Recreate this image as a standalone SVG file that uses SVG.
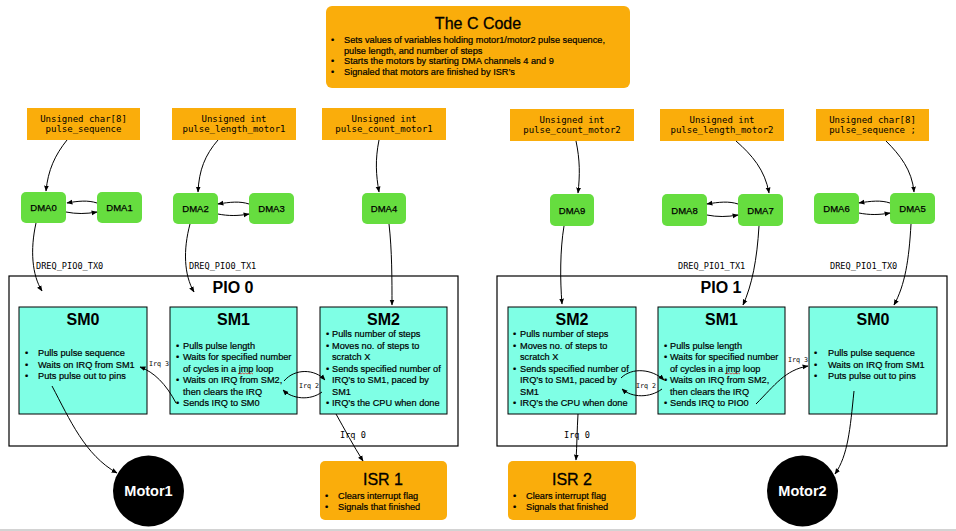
<svg xmlns="http://www.w3.org/2000/svg" width="956" height="531" viewBox="0 0 956 531">
<defs>
<marker id="ah" viewBox="0 0 10 10" refX="9" refY="5" markerWidth="6" markerHeight="6" orient="auto-start-reverse" markerUnits="userSpaceOnUse">
<path d="M0,1 L10,5 L0,9 z" fill="#000"/>
</marker>
<style>
.org{fill:#FAAD0B}
.grn{fill:#66DD3F}
.sm{fill:#7FFFE5;stroke:#000;stroke-width:1}
.pio{fill:none;stroke:#000;stroke-width:1.2}
.ttl{font-family:"Liberation Sans",Arial,sans-serif;font-size:16px;font-weight:bold;fill:#000;text-anchor:middle}
.ttl2{font-family:"Liberation Sans",Arial,sans-serif;font-size:16px;fill:#000;stroke:#000;stroke-width:0.3;text-anchor:middle}
.txt{font-family:"Liberation Sans",Arial,sans-serif;font-size:9.2px;fill:#000;stroke:#000;stroke-width:0.2}
.dma{font-family:"Liberation Sans",Arial,sans-serif;font-size:9.5px;fill:#000;stroke:#000;stroke-width:0.25;text-anchor:middle}
.mono{font-family:"DejaVu Sans Mono","Liberation Mono",monospace;font-size:9px;fill:#000;text-anchor:middle}
.lbl{font-family:"DejaVu Sans Mono","Liberation Mono",monospace;font-size:8.6px;fill:#000}
.lbls{font-family:"DejaVu Sans Mono","Liberation Mono",monospace;font-size:6.7px;fill:#000}
.mot{font-family:"Liberation Sans",Arial,sans-serif;font-size:14.5px;font-weight:bold;fill:#fff;text-anchor:middle}
.c{fill:none;stroke:#000;stroke-width:1;marker-end:url(#ah)}
.sq{fill:none;stroke:#E03030;stroke-width:0.8}
</style>
</defs>
<rect width="956" height="531" fill="#fff"/>
<line x1="0" y1="530" x2="956" y2="530" stroke="#c4c4c4" stroke-width="1.5"/>

<g id="ccode">
<rect x="326" y="6" width="304" height="82" rx="6" class="org"/>
<text x="478" y="29" class="ttl2">The C Code</text>
<text x="331" y="43" class="txt">•</text><text x="344" y="43" class="txt">Sets values of variables holding motor1/motor2 pulse sequence,</text>
<text x="344" y="53.5" class="txt">pulse length, and number of steps</text>
<text x="331" y="64" class="txt">•</text><text x="344" y="64" class="txt">Starts the motors by starting DMA channels 4 and 9</text>
<text x="331" y="74.5" class="txt">•</text><text x="344" y="74.5" class="txt">Signaled that motors are finished by ISR’s</text>
</g>

<g id="var1"><rect x="27" y="108" width="113" height="32" class="org"/><text x="83.5" y="122" class="mono">Unsigned char[8]</text><text x="83.5" y="132" class="mono">pulse_sequence</text></g>
<g id="var2"><rect x="172" y="108" width="124" height="32" class="org"/><text x="234" y="122" class="mono">Unsigned int</text><text x="234" y="132" class="mono">pulse_length_motor1</text></g>
<g id="var3"><rect x="322" y="108" width="124" height="32" class="org"/><text x="384" y="122" class="mono">Unsigned int</text><text x="384" y="132" class="mono">pulse_count_motor1</text></g>
<g id="var4"><rect x="510" y="109" width="124" height="32" class="org"/><text x="572" y="123" class="mono">Unsigned int</text><text x="572" y="133" class="mono">pulse_count_motor2</text></g>
<g id="var5"><rect x="660" y="109" width="124" height="32" class="org"/><text x="722" y="123" class="mono">Unsigned int</text><text x="722" y="133" class="mono">pulse_length_motor2</text></g>
<g id="var6"><rect x="816" y="109" width="113" height="32" class="org"/><text x="872.5" y="123" class="mono">Unsigned char[8]</text><text x="872.5" y="133" class="mono">pulse_sequence ;</text></g>

<g id="dma0"><rect x="21" y="192" width="45" height="31" rx="5" class="grn"/><text x="43.5" y="211" class="dma">DMA0</text></g>
<g id="dma1"><rect x="97" y="192" width="45" height="31" rx="5" class="grn"/><text x="119.5" y="211" class="dma">DMA1</text></g>
<g id="dma2"><rect x="173" y="193" width="45" height="31" rx="5" class="grn"/><text x="195.5" y="212" class="dma">DMA2</text></g>
<g id="dma3"><rect x="249" y="193" width="45" height="31" rx="5" class="grn"/><text x="271.5" y="212" class="dma">DMA3</text></g>
<g id="dma4"><rect x="362" y="193" width="44" height="31" rx="5" class="grn"/><text x="384" y="212" class="dma">DMA4</text></g>
<g id="dma9"><rect x="550" y="194" width="44" height="32" rx="5" class="grn"/><text x="572" y="213.5" class="dma">DMA9</text></g>
<g id="dma8"><rect x="662" y="194" width="45" height="32" rx="5" class="grn"/><text x="684.5" y="213.5" class="dma">DMA8</text></g>
<g id="dma7"><rect x="738" y="194" width="45" height="32" rx="5" class="grn"/><text x="760.5" y="213.5" class="dma">DMA7</text></g>
<g id="dma6"><rect x="814" y="193" width="45" height="31" rx="5" class="grn"/><text x="836.5" y="212" class="dma">DMA6</text></g>
<g id="dma5"><rect x="890" y="193" width="45" height="31" rx="5" class="grn"/><text x="912.5" y="212" class="dma">DMA5</text></g>

<g id="pio0"><rect x="9" y="276" width="449" height="170" class="pio"/><text x="233" y="293" class="ttl">PIO 0</text></g>
<g id="pio1"><rect x="497" y="276" width="450" height="170" class="pio"/><text x="721" y="293" class="ttl">PIO 1</text></g>

<g id="pio0_sm0">
<rect x="19" y="307" width="128" height="107" class="sm"/>
<text x="83" y="325" class="ttl">SM0</text>
<text x="25" y="356" class="txt">•</text><text x="38" y="356" class="txt">Pulls pulse sequence</text>
<text x="25" y="367.5" class="txt">•</text><text x="38" y="367.5" class="txt">Waits on IRQ from SM1</text>
<text x="25" y="379" class="txt">•</text><text x="38" y="379" class="txt">Puts pulse out to pins</text>
</g>
<g id="pio0_sm1">
<rect x="170" y="307" width="127" height="107" class="sm"/>
<text x="233.5" y="325" class="ttl">SM1</text>
<text x="176" y="348.5" class="txt">•</text><text x="183" y="348.5" class="txt">Pulls pulse length</text>
<text x="176" y="360" class="txt">•</text><text x="183" y="360" class="txt">Waits for specified number</text>
<text x="183" y="371.5" class="txt">of cycles in a jmp loop</text>
<text x="176" y="383" class="txt">•</text><text x="183" y="383" class="txt">Waits on IRQ from SM2,</text>
<text x="183" y="394.5" class="txt">then clears the IRQ</text>
<text x="176" y="406" class="txt">•</text><text x="183" y="406" class="txt">Sends IRQ to SM0</text>
<path class="sq" d="M238,374 l1.5,-1 l1.5,1 l1.5,-1 l1.5,1 l1.5,-1 l1.5,1 l1.5,-1 l1.5,1 l1.5,-1 l1.5,1"/>
</g>
<g id="pio0_sm2">
<rect x="320" y="307" width="127" height="107" class="sm"/>
<text x="383.5" y="325" class="ttl">SM2</text>
<text x="326" y="337" class="txt">•</text><text x="332" y="337" class="txt">Pulls number of steps</text>
<text x="326" y="348.5" class="txt">•</text><text x="332" y="348.5" class="txt">Moves no. of steps to</text>
<text x="332" y="360" class="txt">scratch X</text>
<text x="326" y="371.5" class="txt">•</text><text x="332" y="371.5" class="txt">Sends specified number of</text>
<text x="332" y="383" class="txt">IRQ’s to SM1, paced by</text>
<text x="332" y="394.5" class="txt">SM1</text>
<text x="326" y="406" class="txt">•</text><text x="332" y="406" class="txt">IRQ’s the CPU when done</text>
</g>

<g id="pio1_sm2">
<rect x="508" y="307" width="128" height="107" class="sm"/>
<text x="572" y="325" class="ttl">SM2</text>
<text x="513" y="337" class="txt">•</text><text x="520" y="337" class="txt">Pulls number of steps</text>
<text x="513" y="348.5" class="txt">•</text><text x="520" y="348.5" class="txt">Moves no. of steps to</text>
<text x="520" y="360" class="txt">scratch X</text>
<text x="513" y="371.5" class="txt">•</text><text x="520" y="371.5" class="txt">Sends specified number of</text>
<text x="520" y="383" class="txt">IRQ’s to SM1, paced by</text>
<text x="520" y="394.5" class="txt">SM1</text>
<text x="513" y="406" class="txt">•</text><text x="520" y="406" class="txt">IRQ’s the CPU when done</text>
</g>
<g id="pio1_sm1">
<rect x="658" y="307" width="127" height="107" class="sm"/>
<text x="721.5" y="325" class="ttl">SM1</text>
<text x="664" y="348.5" class="txt">•</text><text x="670" y="348.5" class="txt">Pulls pulse length</text>
<text x="664" y="360" class="txt">•</text><text x="670" y="360" class="txt">Waits for specified number</text>
<text x="670" y="371.5" class="txt">of cycles in a jmp loop</text>
<text x="664" y="383" class="txt">•</text><text x="670" y="383" class="txt">Waits on IRQ from SM2,</text>
<text x="670" y="394.5" class="txt">then clears the IRQ</text>
<text x="664" y="406" class="txt">•</text><text x="670" y="406" class="txt">Sends IRQ to PIO0</text>
<path class="sq" d="M725,374 l1.5,-1 l1.5,1 l1.5,-1 l1.5,1 l1.5,-1 l1.5,1 l1.5,-1 l1.5,1 l1.5,-1 l1.5,1"/>
</g>
<g id="pio1_sm0">
<rect x="809" y="307" width="128" height="107" class="sm"/>
<text x="873" y="325" class="ttl">SM0</text>
<text x="814" y="356" class="txt">•</text><text x="828" y="356" class="txt">Pulls pulse sequence</text>
<text x="814" y="367.5" class="txt">•</text><text x="828" y="367.5" class="txt">Waits on IRQ from SM1</text>
<text x="814" y="379" class="txt">•</text><text x="828" y="379" class="txt">Puts pulse out to pins</text>
</g>

<g id="isr1">
<rect x="320" y="461" width="127" height="59" rx="5" class="org"/>
<text x="383" y="485" class="ttl2">ISR 1</text>
<text x="325" y="499" class="txt">•</text><text x="338" y="499" class="txt">Clears interrupt flag</text>
<text x="325" y="510" class="txt">•</text><text x="338" y="510" class="txt">Signals that finished</text>
</g>
<g id="isr2">
<rect x="508" y="461" width="128" height="59" rx="5" class="org"/>
<text x="572" y="485" class="ttl2">ISR 2</text>
<text x="513" y="499" class="txt">•</text><text x="526" y="499" class="txt">Clears interrupt flag</text>
<text x="513" y="510" class="txt">•</text><text x="526" y="510" class="txt">Signals that finished</text>
</g>

<g id="motor1"><circle cx="148.5" cy="491" r="35.5" fill="#000"/><text x="148.5" y="496" class="mot">Motor1</text></g>
<g id="motor2"><circle cx="802.5" cy="491" r="35.5" fill="#000"/><text x="802.5" y="496" class="mot">Motor2</text></g>

<g id="connectors">
<path class="c" d="M67,140 C55,155 48,170 46,191"/>
<path class="c" d="M218,140 C205,155 199,170 198,192"/>
<path class="c" d="M379,140 C375,160 376,175 379,192"/>
<path class="c" d="M576,141 C580,160 580,175 578,193"/>
<path class="c" d="M736,141 C752,155 765,170 769,193"/>
<path class="c" d="M886,141 C900,155 912,170 914,192"/>

<path class="c" d="M97,203 C88,200 78,201 67,203"/>
<path class="c" d="M66,212 C76,214 86,214 97,212"/>
<path class="c" d="M249,204 C240,201 230,202 218,204"/>
<path class="c" d="M218,214 C228,216 238,216 249,214"/>
<path class="c" d="M738,204 C729,201 719,202 707,204"/>
<path class="c" d="M707,215 C717,217 727,217 738,215"/>
<path class="c" d="M890,203 C881,200 871,201 859,203"/>
<path class="c" d="M859,213 C869,215 879,215 890,213"/>

<path class="c" d="M36,223 C30,250 32,275 42,291"/>
<path class="c" d="M190,224 C183,250 184,275 194,292"/>
<path class="c" d="M389,224 C392,250 392,280 392,305"/>
<path class="c" d="M564,226 C560,250 560,280 562,304"/>
<path class="c" d="M759,226 C757,260 752,285 743,305"/>
<path class="c" d="M911,224 C909,260 905,285 894,305"/>

<path class="c" d="M176,403 C166,384 154,372 140,367"/>
<path class="c" d="M284,381 C295,368 315,369 325,380"/>
<path class="c" d="M322,392 C310,401 292,399 283,390"/>
<path class="c" d="M621,378 C632,367 652,369 664,380"/>
<path class="c" d="M662,389 C650,398 632,398 622,389"/>
<path class="c" d="M756,404 C775,385 785,370 808,366"/>

<path class="c" d="M336,414 C345,430 353,445 363,461"/>
<path class="c" d="M578,414 C577,430 577,445 576,460"/>
<path class="c" d="M52,386 C70,420 85,455 117,473"/>
<path class="c" d="M854,391 C850,430 848,455 835,474"/>

<text x="36" y="269" class="lbl">DREQ_PIO0_TX0</text>
<text x="189" y="269" class="lbl">DREQ_PIO0_TX1</text>
<text x="678" y="269" class="lbl">DREQ_PIO1_TX1</text>
<text x="830" y="269" class="lbl">DREQ_PIO1_TX0</text>
<text x="149" y="366" class="lbls">Irq 3</text>
<text x="299" y="388" class="lbls">Irq 2</text>
<text x="636" y="388" class="lbls">Irq 2</text>
<text x="788" y="362" class="lbls">Irq 3</text>
<text x="340" y="438" class="lbl">Irq 0</text>
<text x="564" y="438" class="lbl">Irq 0</text>
</g>
</svg>
